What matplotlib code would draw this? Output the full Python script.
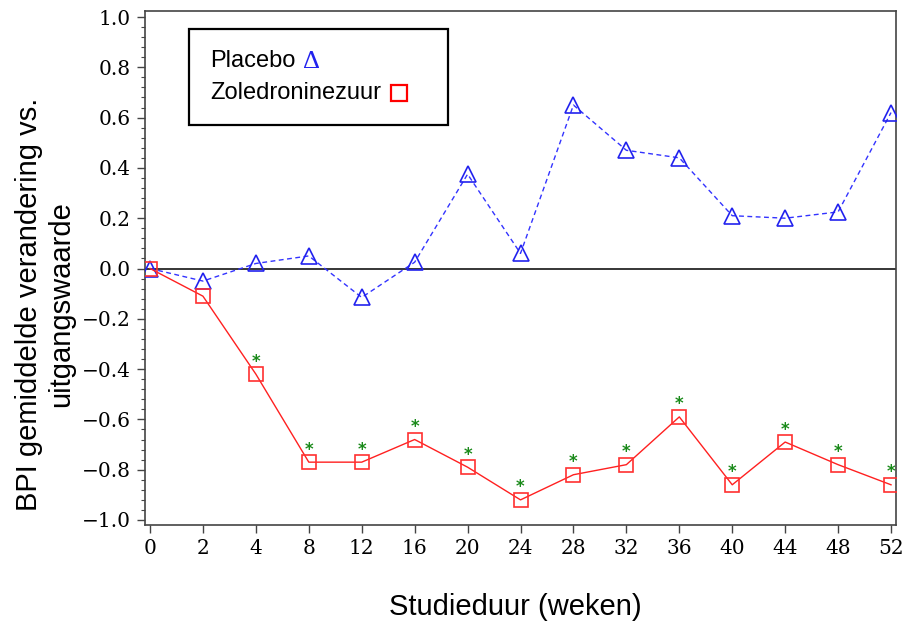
import matplotlib
matplotlib.use("Agg")
import matplotlib.pyplot as plt
from matplotlib.patches import Rectangle
from matplotlib.lines import Line2D
from matplotlib.ticker import MultipleLocator, FixedLocator

weeks = ["0", "2", "4", "8", "12", "16", "20", "24", "28", "32", "36", "40", "44", "48", "52"]
placebo = [0.0, -0.05, 0.02, 0.05, -0.115, 0.025, 0.375, 0.06, 0.65, 0.47, 0.44, 0.21, 0.20, 0.225, 0.62]
zoledronine = [0.0, -0.11, -0.42, -0.77, -0.77, -0.68, -0.79, -0.92, -0.82, -0.78, -0.59, -0.86, -0.69, -0.78, -0.86]
significant = [False, False, True, True, True, True, True, True, True, True, True, True, True, True, True]

W, H = 904, 625
fig = plt.figure(figsize=(W / 100, H / 100), dpi=100)
ax = fig.add_axes([145 / W, 1 - 525 / H, (896 - 145) / W, (525 - 11) / H])

x = list(range(len(weeks)))
ax.axhline(0, color="black", lw=1.1, zorder=1)
ax.plot(x, placebo, color="#3333ff", ls=(0, (3.5, 2.5)), lw=1.0, marker="^", ms=11,
        mfc="none", mec="#2222ee", mew=1.2, zorder=3)
ax.plot(x, zoledronine, color="#ff2020", ls="-", lw=1.0, marker="s", ms=10,
        mfc="none", mec="#ff3030", mew=1.2, zorder=3)
for xi, yi, s in zip(x, zoledronine, significant):
    if s:
        ax.annotate("*", (xi, yi), xytext=(0, 9), textcoords="offset points",
                    ha="center", va="center", color="#1a8a1a", fontsize=12,
                    family="DejaVu Sans", fontweight="bold")

ax.set_xlim(-0.0945, 14.094)
ax.set_ylim(-1.0199, 1.0239)
ax.xaxis.set_major_locator(FixedLocator(x))
ax.set_xticklabels(weeks)
ax.yaxis.set_minor_locator(MultipleLocator(0.04))
ax.set_yticks([-1.0, -0.8, -0.6, -0.4, -0.2, 0.0, 0.2, 0.4, 0.6, 0.8, 1.0])
ax.set_yticklabels(["\u22121.0", "\u22120.8", "\u22120.6", "\u22120.4", "\u22120.2", "0.0",
                    "0.2", "0.4", "0.6", "0.8", "1.0"])
for lab in ax.get_xticklabels() + ax.get_yticklabels():
    lab.set_family(["DejaVu Serif"])
    lab.set_fontsize(14.5)
ax.tick_params(axis="both", which="major", direction="out", length=6, width=1, color="#444444", pad=4)
ax.tick_params(axis="y", which="minor", direction="out", length=3, width=0.8, color="#444444")
for sp in ax.spines.values():
    sp.set_color("#444444")
    sp.set_linewidth(1.2)

fig.text(515 / W, 1 - 607 / H, "Studieduur (weken)", ha="center", va="center",
         family="Liberation Sans", fontsize=21)
fig.text(45 / W, 1 - 304 / H, "BPI gemiddelde verandering vs.\nuitgangswaarde", ha="center",
         va="center", rotation=90, family="Liberation Sans", fontsize=21, linespacing=1.15)

# legend box
fig.patches.append(Rectangle((189 / W, 1 - 125 / H), (448 - 189) / W, (125 - 29) / H,
                             transform=fig.transFigure, fill=True, facecolor="white",
                             edgecolor="black", lw=1.6, zorder=5))
fig.text(210 / W, 1 - 61 / H, "Placebo", ha="left", va="center", family="Liberation Sans",
         fontsize=17, zorder=6)
fig.text(303 / W, 1 - 62 / H, "\u0394", ha="left", va="center", family="Liberation Serif",
         fontsize=19, color="#2222ee", zorder=6)
fig.text(210 / W, 1 - 93 / H, "Zoledroninezuur", ha="left", va="center", family="Liberation Sans",
         fontsize=17, zorder=6)
fig.lines.append(Line2D([399 / W], [1 - 93 / H], transform=fig.transFigure, marker="s", ms=11,
                        mfc="none", mec="red", mew=1.6, ls="none", zorder=6))

fig.savefig("out.png", dpi=100)
